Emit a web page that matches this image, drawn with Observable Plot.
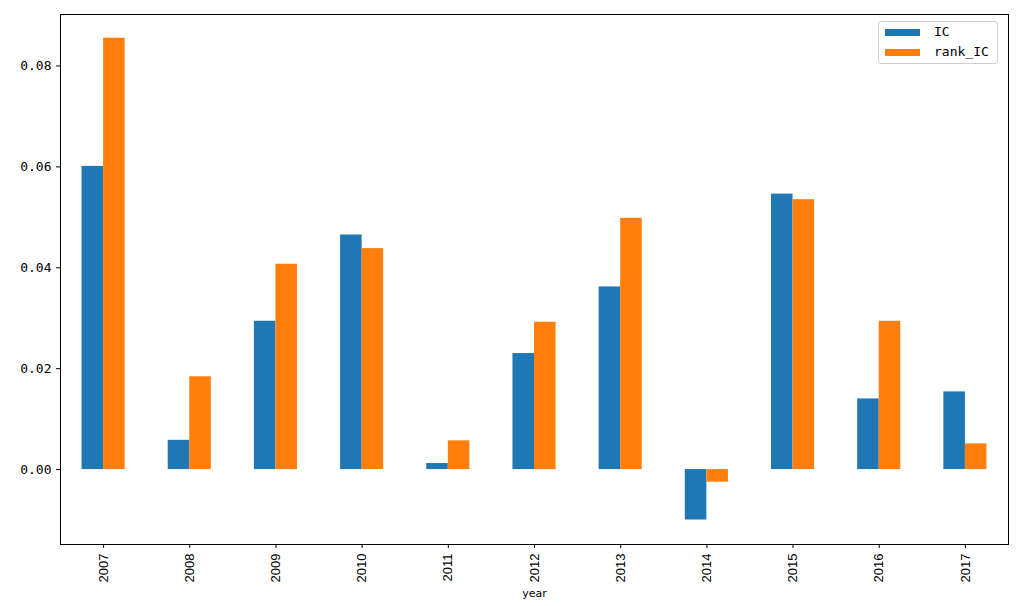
<!DOCTYPE html>
<html><head><meta charset="utf-8">
<script src="https://cdn.jsdelivr.net/npm/d3@7"></script>
<script src="https://cdn.jsdelivr.net/npm/@observablehq/plot@0.6"></script>
<style>
body{margin:0;background:#fff}
#wrap{position:relative;width:1017px;height:606px}
.legend{position:absolute;left:878px;top:21px;width:120px;height:43px;border:1px solid #d0d0d0;border-radius:3px;background:rgba(255,255,255,0.8);box-sizing:border-box;font:13px "DejaVu Sans Mono",monospace;color:#000}
.legend .item{position:absolute;left:6px;height:14px;line-height:14px;display:flex;align-items:center}
.legend .sw{width:35px;height:7px;margin-right:14px}
g[aria-label="x-axis tick label"] text{font-family:"Liberation Sans Narrow","Liberation Sans",sans-serif;font-size:13px}
g[aria-label="x-axis label"] text{font-family:"DejaVu Sans",sans-serif;font-size:11px}
</style></head>
<body><div id="wrap"></div>
<script>
const years = ["2007","2008","2009","2010","2011","2012","2013","2014","2015","2016","2017"];
const seriesNames = ["IC","rank_IC"];
const icValues = [0.0601,0.0058,0.0294,0.0465,0.0012,0.0230,0.0362,-0.0100,0.0546,0.0140,0.0154];
const rankIcValues = [0.0855,0.0184,0.0407,0.0438,0.0057,0.0292,0.0498,-0.0025,0.0535,0.0294,0.0051];
const colors = ["#1f77b4","#ff7f0e"];
const yTicks = [0,0.02,0.04,0.06,0.08];

const rows = [];
years.forEach((y,i)=>{
  rows.push({i, year:y, series:"IC", s:0, value:icValues[i]});
  rows.push({i, year:y, series:"rank_IC", s:1, value:rankIcValues[i]});
});
const barW = 0.25;

const chart = Plot.plot({
  width:1017, height:606,
  marginLeft:60, marginRight:9, marginTop:14, marginBottom:62,
  style:{fontFamily:"DejaVu Sans Mono, monospace", fontSize:"13px", background:"#fff", color:"#000"},
  x:{domain:[-0.5, years.length-0.5], ticks:years.map((_,i)=>i), tickFormat:i=>years[i], tickRotate:-90, tickSize:4, label:"year", labelArrow:"none", labelAnchor:"center", labelOffset:52},
  y:{domain:[-0.01485,0.0902], ticks:yTicks, tickFormat:d3.format(".2f"), tickSize:4, label:null},
  color:{domain:seriesNames, range:colors},
  marks:[
    Plot.rectY(rows,{x1:d=>d.i - barW + d.s*barW, x2:d=>d.i + d.s*barW, y:"value", fill:"series"}),
    Plot.frame({stroke:"#000", strokeWidth:1})
  ]
});
chart.querySelectorAll('g[aria-label="x-axis label"] text').forEach(t=>{ t.textContent = t.textContent.replace(/\s*[→←]\s*/g,"").trim(); });
const wrap = document.getElementById("wrap");
wrap.appendChild(chart);
const leg = document.createElement("div");
leg.className="legend";
seriesNames.forEach((n,k)=>{
  const it=document.createElement("div");
  it.className="item";
  it.style.top=(3+k*20)+"px";
  it.innerHTML=`<span class="sw" style="background:${colors[k]}"></span><span>${n}</span>`;
  leg.appendChild(it);
});
wrap.appendChild(leg);
</script>
</body></html>
